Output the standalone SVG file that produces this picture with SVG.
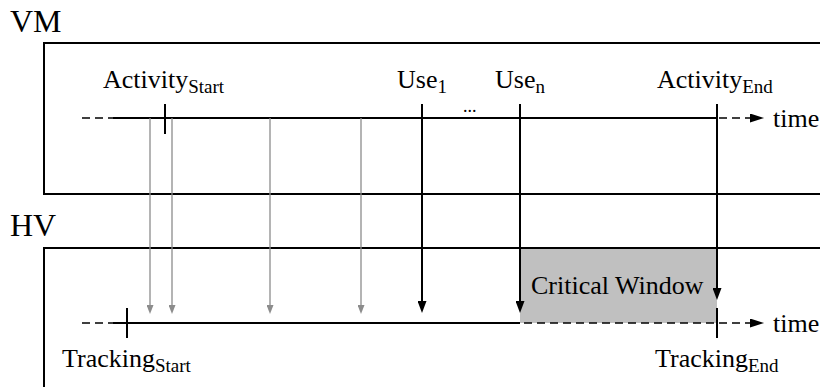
<svg xmlns="http://www.w3.org/2000/svg" width="820" height="387" viewBox="0 0 820 387">
<defs>
<style>
text{font-family:"Liberation Serif","DejaVu Serif",serif;fill:#000}
.lbl{font-size:26px}
.sub{font-size:19px}
.big{font-size:32px}
.box{fill:#fff;stroke:#000;stroke-width:2}
.dash{stroke:#000;stroke-width:1.6;stroke-dasharray:8 5;fill:none}
.solid{stroke:#000;stroke-width:2;fill:none}
.tick{stroke:#000;stroke-width:2}
.blk{stroke:#000;stroke-width:2;fill:none;marker-end:url(#ab)}
.gry{stroke:#8c8c8c;stroke-width:1.3;fill:none;marker-end:url(#ag)}
</style>
<marker id="ab" markerUnits="userSpaceOnUse" markerWidth="12" markerHeight="9" viewBox="0 0 12 9" refX="6" refY="4.5" orient="auto"><path d="M0,0 L12,4.5 L0,9 z" fill="#000"/></marker>
<marker id="ag" markerUnits="userSpaceOnUse" markerWidth="9" markerHeight="7" viewBox="0 0 9 7" refX="4" refY="3.5" orient="auto"><path d="M0,0 L9,3.5 L0,7 z" fill="#8c8c8c"/></marker>
<marker id="at" markerUnits="userSpaceOnUse" markerWidth="14" markerHeight="9" viewBox="0 0 14 9" refX="0" refY="4.5" orient="auto"><path d="M0,0 L14,4.5 L0,9 z" fill="#000"/></marker>
</defs>

<g id="vm">
<text class="big" x="10" y="32">VM</text>
<rect class="box" x="44" y="43" width="800" height="151"/>
<line class="dash" x1="82" y1="118" x2="750" y2="118" marker-end="url(#at)"/>
<line class="solid" x1="113" y1="118" x2="717" y2="118"/>
<text class="lbl" x="773" y="127">time</text>
<text class="lbl" x="463" y="112" style="font-size:18px">...</text>
</g>

<g id="hv">
<text class="big" x="10" y="236">HV</text>
<rect class="box" x="44" y="248" width="800" height="160"/>
</g>

<g id="critical-window">
<rect x="520" y="249" width="197" height="74" fill="#c0c0c0"/>
<text class="lbl" x="531" y="294">Critical Window</text>
</g>

<g id="hv-timeline">
<line class="dash" x1="82" y1="323" x2="750" y2="323" marker-end="url(#at)"/>
<line class="solid" x1="113" y1="323" x2="520" y2="323"/>
<text class="lbl" x="773" y="332">time</text>
</g>

<g id="activity-start">
<line class="tick" x1="165" y1="104" x2="165" y2="134"/>
<text class="lbl" x="103" y="88">Activity<tspan class="sub" dy="5">Start</tspan></text>
</g>
<g id="use-1">
<text class="lbl" x="397" y="88">Use<tspan class="sub" dy="5">1</tspan></text>
</g>
<g id="use-n">
<text class="lbl" x="495" y="88">Use<tspan class="sub" dy="5">n</tspan></text>
</g>
<g id="activity-end">
<text class="lbl" x="657" y="88">Activity<tspan class="sub" dy="5">End</tspan></text>
</g>
<g id="tracking-start">
<line class="tick" x1="127" y1="308" x2="127" y2="338"/>
<text class="lbl" x="62" y="367">Tracking<tspan class="sub" dy="5">Start</tspan></text>
</g>
<g id="tracking-end">
<line class="tick" x1="717" y1="308" x2="717" y2="338"/>
<text class="lbl" x="655" y="367">Tracking<tspan class="sub" dy="5">End</tspan></text>
</g>

<g id="connectors">
<line class="gry" x1="150" y1="118" x2="150" y2="309"/>
<line class="gry" x1="172" y1="118" x2="172" y2="309"/>
<line class="gry" x1="270" y1="118" x2="270" y2="309"/>
<line class="gry" x1="361" y1="118" x2="361" y2="309"/>
<line class="blk" x1="422" y1="104" x2="422" y2="307"/>
<line class="blk" x1="520" y1="104" x2="520" y2="307"/>
<line class="blk" x1="717" y1="104" x2="717" y2="294"/>
</g>
</svg>
